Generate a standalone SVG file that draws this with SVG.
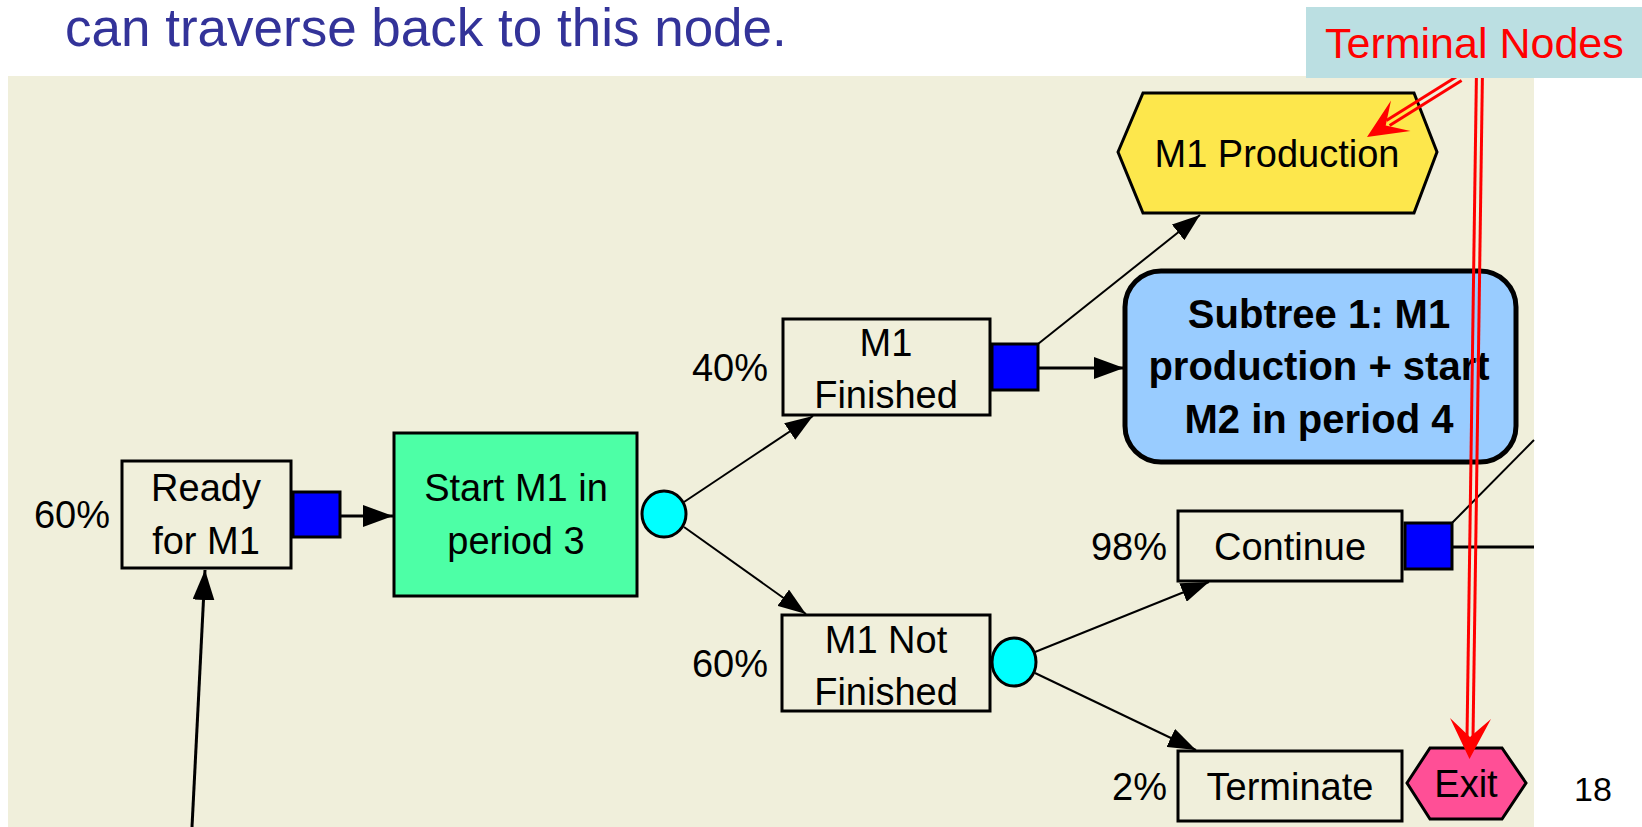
<svg xmlns="http://www.w3.org/2000/svg" width="1642" height="827" viewBox="0 0 1642 827">
  <style>
    .panel { fill: #F0EFDB; }
    .box { fill: #F0EFDB; stroke: #000; stroke-width: 3; }
    .dec { fill: #0000FF; stroke: #000; stroke-width: 3; }
    .chance { fill: #00FFFF; stroke: #000; stroke-width: 3; }
    .lbl { font-family: "Liberation Sans", Arial, sans-serif; font-size: 38px; fill: #000; }
    .mid { text-anchor: middle; }
    .end { text-anchor: end; }
    .bold { font-weight: bold; font-size: 40px; }
    .thin { stroke: #000; stroke-width: 2; fill: none; }
    .thick { stroke: #000; stroke-width: 3; fill: none; }
    .red { stroke: #FF0000; stroke-width: 3; fill: none; }
  </style>
  <defs>
    <marker id="ah" viewBox="0 0 30 22" refX="30" refY="11" markerWidth="30" markerHeight="22" markerUnits="userSpaceOnUse" orient="auto">
      <path d="M0,0 L30,11 L0,22 z" fill="#000"/>
    </marker>
    <marker id="ahs" viewBox="0 0 28 20" refX="28" refY="10" markerWidth="28" markerHeight="20" markerUnits="userSpaceOnUse" orient="auto">
      <path d="M0,0 L28,10 L0,20 z" fill="#000"/>
    </marker>
  </defs>

  <rect width="1642" height="827" fill="#FFFFFF"/>
  <text x="65" y="46" font-family="Liberation Sans, Arial, sans-serif" font-size="53" fill="#333399">can traverse back to this node.</text>
  <rect class="panel" x="8" y="76" width="1526" height="751"/>

  <!-- connectors of the decision tree -->
  <g id="connectors">
    <line class="thick" x1="192" y1="827" x2="205" y2="570" marker-end="url(#ah)"/>
    <line class="thick" x1="340" y1="516" x2="393" y2="516" marker-end="url(#ah)"/>
    <line class="thin" x1="684" y1="502" x2="813" y2="416" marker-end="url(#ahs)"/>
    <line class="thin" x1="684" y1="527" x2="806" y2="614" marker-end="url(#ahs)"/>
    <line class="thick" x1="1038" y1="368" x2="1124" y2="368" marker-end="url(#ah)"/>
    <line class="thin" x1="1038" y1="344" x2="1200" y2="215" marker-end="url(#ahs)"/>
    <line class="thin" x1="1035" y1="652" x2="1209" y2="582" marker-end="url(#ahs)"/>
    <line class="thin" x1="1035" y1="673" x2="1196" y2="750" marker-end="url(#ahs)"/>
    <line class="thick" x1="1452" y1="547" x2="1534" y2="547"/>
    <line class="thin" x1="1452" y1="523" x2="1534" y2="440"/>
  </g>

  <g id="ready">
    <rect class="box" x="122" y="461" width="169" height="107"/>
    <text class="lbl mid" x="206" y="501">Ready</text>
    <text class="lbl mid" x="206" y="554">for M1</text>
    <text class="lbl end" x="110" y="528">60%</text>
  </g>
  <rect id="decision-ready" class="dec" x="293" y="492" width="47" height="45"/>

  <g id="start-m1">
    <rect x="394" y="433" width="243" height="163" fill="#4DFFA6" stroke="#000" stroke-width="3"/>
    <text class="lbl mid" x="516" y="501">Start M1 in</text>
    <text class="lbl mid" x="516" y="554">period 3</text>
  </g>
  <ellipse id="chance-start" class="chance" cx="664" cy="514" rx="22" ry="23"/>

  <g id="m1-finished">
    <rect class="box" x="783" y="319" width="207" height="96"/>
    <text class="lbl mid" x="886" y="356">M1</text>
    <text class="lbl mid" x="886" y="408">Finished</text>
    <text class="lbl end" x="768" y="381">40%</text>
  </g>
  <rect id="decision-finished" class="dec" x="992" y="344" width="46" height="46"/>

  <g id="m1-production">
    <polygon points="1118,152 1143,93 1414,93 1437,152 1414,213 1143,213" fill="#FDE74C" stroke="#000" stroke-width="3"/>
    <text class="lbl mid" x="1277" y="167" font-size="39">M1 Production</text>
  </g>

  <g id="subtree-1">
    <rect x="1125" y="271" width="391" height="191" rx="36" ry="36" fill="#99CCFF" stroke="#000" stroke-width="5"/>
    <text class="lbl bold mid" x="1319" y="328">Subtree 1: M1</text>
    <text class="lbl bold mid" x="1319" y="380">production + start</text>
    <text class="lbl bold mid" x="1319" y="433">M2 in period 4</text>
  </g>

  <g id="m1-not-finished">
    <rect class="box" x="782" y="615" width="208" height="96"/>
    <text class="lbl mid" x="886" y="653">M1 Not</text>
    <text class="lbl mid" x="886" y="705">Finished</text>
    <text class="lbl end" x="768" y="677">60%</text>
  </g>
  <ellipse id="chance-not-finished" class="chance" cx="1014" cy="662" rx="22" ry="24"/>

  <g id="continue">
    <rect class="box" x="1178" y="511" width="224" height="70"/>
    <text class="lbl mid" x="1290" y="560">Continue</text>
    <text class="lbl end" x="1167" y="560">98%</text>
  </g>
  <rect id="decision-continue" class="dec" x="1405" y="523" width="47" height="46"/>

  <g id="terminate">
    <rect class="box" x="1178" y="751" width="224" height="70"/>
    <text class="lbl mid" x="1290" y="800">Terminate</text>
    <text class="lbl end" x="1167" y="800">2%</text>
  </g>

  <g id="exit">
    <polygon points="1407,783 1430,748 1502,748 1526,783 1502,819 1430,819" fill="#FF4F96" stroke="#000" stroke-width="3"/>
    <text class="lbl mid" x="1466" y="797">Exit</text>
  </g>

  <text id="page-number" x="1574" y="801" font-family="Liberation Sans, Arial, sans-serif" font-size="34" fill="#000">18</text>

  <!-- callout pointers: double red lines with notched heads -->
  <g id="callout-pointers">
    <line class="red" x1="1461.6" y1="80.5" x2="1389.6" y2="125.5"/>
    <line class="red" x1="1458.4" y1="75.5" x2="1386.4" y2="120.5"/>
    <path d="M1367,137 L1391,100.5 L1385.7,125.4 L1410.5,131 z" fill="#FF0000"/>
    <line class="red" x1="1476.5" y1="70" x2="1467" y2="738"/>
    <line class="red" x1="1482.5" y1="70" x2="1473" y2="738"/>
    <path d="M1469.5,759 L1450,718 L1470,737 L1491,719 z" fill="#FF0000"/>
  </g>

  <g id="callout">
    <rect x="1306" y="7" width="336" height="71" fill="#BBDFE2"/>
    <text x="1325" y="58" font-family="Liberation Sans, Arial, sans-serif" font-size="43" fill="#FF0000">Terminal Nodes</text>
  </g>
</svg>
